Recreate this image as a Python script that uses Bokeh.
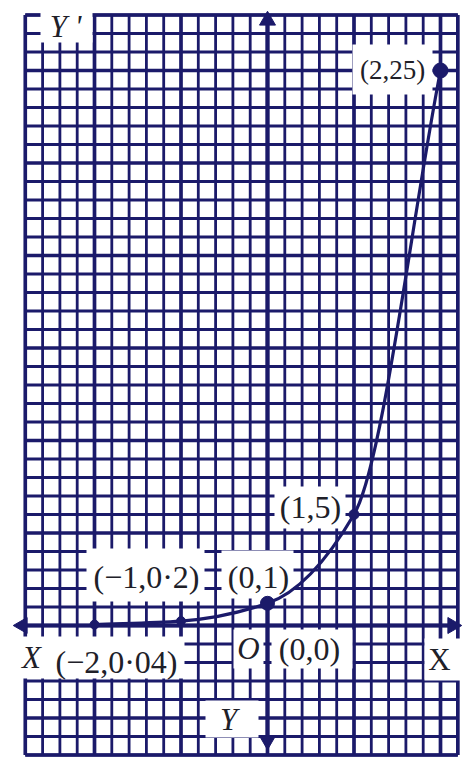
import numpy as np
from bokeh.plotting import figure
from bokeh.models import Range1d, ColumnDataSource
from bokeh.core.properties import value
from bokeh.embed import file_html
from bokeh.resources import INLINE

# y = 5^x, plotted points
x_vals = [-2, -1, 0, 1, 2]
y_vals = [0.04, 0.2, 1, 5, 25]
point_labels = ["(\u22122,0\u00b704)", "(\u22121,0\u00b72)", "(0,1)", "(1,5)", "(2,25)"]

W, H = 469, 764
OX, OY = 267.0, 625.0          # origin position on the page
SQ_X, SQ_Y = 17.3, 18.5        # graph-paper square size
UX = 5 * SQ_X                  # 1 unit on x = 5 squares
UY = 1.2 * SQ_Y                # 1 unit on y = 1.2 squares

INK = "#1b1a6a"
TEXT = "#202028"
SERIF = value("Liberation Serif")


def dx(px):
    return (px - OX) / UX


def dy(py):
    return (OY - py) / UY


p = figure(width=W, height=H, output_backend="svg", toolbar_location=None,
           x_range=Range1d(dx(0), dx(W)), y_range=Range1d(dy(H), dy(0)),
           min_border=0)
p.axis.visible = False
p.grid.visible = False
p.outline_line_color = None
p.background_fill_color = "white"
p.border_fill_color = "white"

# graph paper: thin lines every square, heavier every fifth
kx = np.arange(-14, 12)
ky = np.arange(-7, 34)
x_lo, x_hi = kx[0] * SQ_X / UX, kx[-1] * SQ_X / UX
y_lo, y_hi = ky[0] * SQ_Y / UY, ky[-1] * SQ_Y / UY
for bold in (False, True):
    vx = [k * SQ_X / UX for k in kx if (k % 5 == 0) == bold]
    hy = [k * SQ_Y / UY for k in ky if (k % 5 == 0) == bold]
    lw = 3.7 if bold else 2.8
    p.segment(x0=vx, y0=[y_lo] * len(vx), x1=vx, y1=[y_hi] * len(vx),
              line_color=INK, line_width=lw)
    p.segment(x0=[x_lo] * len(hy), y0=hy, x1=[x_hi] * len(hy), y1=hy,
              line_color=INK, line_width=lw)
# paper border
p.segment(x0=[x_lo, x_hi, x_lo, x_lo], y0=[y_lo, y_lo, y_lo, y_hi],
          x1=[x_lo, x_hi, x_hi, x_hi], y1=[y_hi, y_hi, y_lo, y_hi],
          line_color=INK, line_width=3.6)

# coordinate axes with arrow heads
ax_l, ax_r = dx(22), dx(452)
ay_t, ay_b = dy(20), dy(740)
p.segment(x0=[ax_l, 0], y0=[0, ay_b], x1=[ax_r, 0], y1=[0, ay_t],
          line_color=INK, line_width=4)
p.scatter(x=[ax_l, ax_r, 0, 0], y=[0, 0, ay_t, ay_b], marker="triangle",
          angle=[np.pi / 2, -np.pi / 2, 0, np.pi], size=16,
          fill_color=INK, line_color=INK)

# white patches behind the labels (left, top, right, bottom on the page)
boxes = [
    (40, 4, 92, 42),
    (352, 44, 432, 94),
    (274, 486, 345, 528),
    (86, 548, 204, 601),
    (221, 550, 293, 598),
    (0, 636, 184, 678),
    (233, 629, 263, 668),
    (271, 629, 352, 668),
    (424, 638, 460, 680),
    (205, 700, 258, 737),
]
p.quad(left=[dx(b[0]) for b in boxes], top=[dy(b[1]) for b in boxes],
       right=[dx(b[2]) for b in boxes], bottom=[dy(b[3]) for b in boxes],
       fill_color="white", line_color=None)

# smooth monotone curve through the plotted points (Hermite -> cubic Beziers)
xs = np.array(x_vals, dtype=float)
ys = np.array(y_vals, dtype=float)
h = np.diff(xs)
sec = np.diff(ys) / h
m = np.empty_like(xs)
m[1:-1] = 2.0 / (1.0 / sec[:-1] + 1.0 / sec[1:])   # harmonic mean of secants
m[0], m[-1] = sec[0], sec[-1]
curve = ColumnDataSource(dict(
    x0=xs[:-1], y0=ys[:-1], x1=xs[1:], y1=ys[1:],
    cx0=xs[:-1] + h / 3, cy0=ys[:-1] + m[:-1] * h / 3,
    cx1=xs[1:] - h / 3, cy1=ys[1:] - m[1:] * h / 3,
))
p.bezier(x0="x0", y0="y0", x1="x1", y1="y1", cx0="cx0", cy0="cy0",
         cx1="cx1", cy1="cy1", source=curve, line_color=INK, line_width=3.2)

p.scatter(x=x_vals, y=y_vals, size=[9, 9, 14, 10, 15],
          fill_color=INK, line_color=INK)

# point labels
label_pos = [(116, 661), (146, 576), (258, 576), (310, 506), (392, 69)]
label_size = ["32px", "32px", "32px", "32px", "27px"]
p.text(x=[dx(q[0]) for q in label_pos], y=[dy(q[1]) for q in label_pos],
       text=point_labels, text_font=SERIF, text_font_size=label_size,
       text_align="center", text_baseline="middle", text_color=TEXT)

p.text(x=[dx(309)], y=[dy(648)], text=["(0,0)"], text_font=SERIF,
       text_font_size="32px", text_align="center", text_baseline="middle",
       text_color=TEXT)

# axis names
p.text(x=[dx(65), dx(31), dx(248), dx(228)], y=[dy(26), dy(657), dy(648), dy(719)],
       text=["Y '", "X", "O", "Y"], text_font=SERIF, text_font_style="italic",
       text_font_size="31px", text_align="center", text_baseline="middle",
       text_color=TEXT)
p.text(x=[dx(439)], y=[dy(659)], text=["X"], text_font=SERIF,
       text_font_size="31px", text_align="center", text_baseline="middle",
       text_color=TEXT)

open("out.html", "w").write(file_html(p, INLINE))
